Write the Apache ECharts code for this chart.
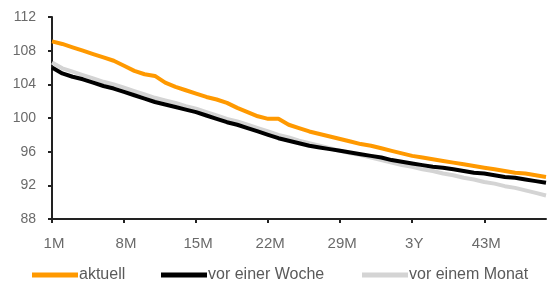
<!DOCTYPE html>
<html>
<head>
    <meta charset="utf-8">
    <title>Zinskurve</title>
    <script src="https://cdn.jsdelivr.net/npm/echarts@6/dist/echarts.min.js"></script>
    <style>
        html, body { margin: 0; padding: 0; background: #fff; }
    </style>
</head>
<body>
    <div id="chart" style="width: 555px; height: 284px;"></div>
    <script>
        // Laufzeiten (1M bis 49M)
        var categories = ['1M', '2M', '3M', '4M', '5M', '6M', '7M', '8M', '9M', '10M',
            '11M', '12M', '13M', '14M', '15M', '16M', '17M', '18M', '19M', '20M',
            '21M', '22M', '23M', '24M', '25M', '26M', '27M', '28M', '29M', '30M',
            '31M', '32M', '33M', '34M', '35M', '3Y', '37M', '38M', '39M', '40M',
            '41M', '42M', '43M', '44M', '45M', '46M', '47M', '48M', '49M'];

        var aktuell = [109.1, 108.8, 108.4, 108.0, 107.6, 107.2, 106.8, 106.2, 105.6, 105.2,
            105.0, 104.2, 103.7, 103.3, 102.9, 102.5, 102.2, 101.8, 101.2, 100.7,
            100.2, 99.9, 99.9, 99.2, 98.8, 98.4, 98.1, 97.8, 97.5, 97.2,
            96.9, 96.7, 96.4, 96.1, 95.8, 95.5, 95.3, 95.1, 94.9, 94.7,
            94.5, 94.3, 94.1, 93.9, 93.7, 93.5, 93.4, 93.2, 93.0];

        var vorWoche = [106.0, 105.3, 104.9, 104.6, 104.2, 103.8, 103.5, 103.1, 102.7, 102.3,
            101.9, 101.6, 101.3, 101.0, 100.7, 100.3, 99.9, 99.5, 99.2, 98.8,
            98.4, 98.0, 97.6, 97.3, 97.0, 96.7, 96.5, 96.3, 96.1, 95.9,
            95.7, 95.5, 95.3, 95.0, 94.8, 94.6, 94.4, 94.2, 94.1, 93.9,
            93.7, 93.5, 93.4, 93.2, 93.0, 92.9, 92.7, 92.5, 92.3];

        var vorMonat = [106.6, 105.9, 105.5, 105.1, 104.7, 104.3, 104.0, 103.6, 103.2, 102.8,
            102.4, 102.1, 101.8, 101.4, 101.1, 100.7, 100.3, 99.9, 99.6, 99.2,
            98.8, 98.4, 98.0, 97.7, 97.3, 97.0, 96.7, 96.4, 96.1, 95.8,
            95.6, 95.3, 95.0, 94.7, 94.4, 94.2, 93.9, 93.7, 93.4, 93.2,
            92.9, 92.7, 92.4, 92.2, 91.9, 91.7, 91.4, 91.1, 90.8];

        var names = ['aktuell', 'vor einer Woche', 'vor einem Monat'];
        var colors = ['#FF9900', '#000000', '#D4D4D4'];

        var chart = echarts.init(document.getElementById('chart'));

        var font = 'Liberation Sans, Arial, sans-serif';

        // eine Legende je Eintrag, damit die Abstände wie im Original sitzen
        var legendLeft = [27, 156, 357];
        var legends = names.map(function (n, i) {
            return {
                left: legendLeft[i],
                top: 262,
                icon: 'rect',
                itemWidth: 46,
                itemHeight: 5,
                textStyle: { fontFamily: font, fontSize: 16, color: '#5a5a5a', padding: [0, 0, 0, -4] },
                data: [n]
            };
        });

        var option = {
            animation: false,
            grid: { left: 52, right: 9, top: 17, bottom: 65, containLabel: false },
            legend: legends,
            xAxis: {
                type: 'category',
                data: categories,
                boundaryGap: false,
                axisLine: { lineStyle: { color: '#222', width: 2 } },
                axisTick: { interval: 6, length: 4, lineStyle: { color: '#222', width: 2 } },
                axisLabel: { interval: 6, margin: 17, fontFamily: font, fontSize: 15, color: '#6a6a6a', padding: [0, 0, 0, 4] },
                splitLine: { show: false }
            },
            yAxis: {
                type: 'value',
                min: 88,
                max: 112,
                interval: 4,
                axisLine: { show: true, lineStyle: { color: '#222', width: 2 } },
                axisTick: { show: true, length: 4, lineStyle: { color: '#222', width: 2 } },
                axisLabel: { margin: 16, fontFamily: font, fontSize: 14, color: '#6a6a6a' },
                splitLine: { show: false }
            },
            series: names.map(function (n, i) {
                return {
                    name: n,
                    type: 'line',
                    data: [aktuell, vorWoche, vorMonat][i],
                    showSymbol: false,
                    z: 4 - i,
                    itemStyle: { color: colors[i] },
                    lineStyle: { color: colors[i], width: 4 }
                };
            })
        };

        chart.setOption(option);
    </script>
</body>
</html>
